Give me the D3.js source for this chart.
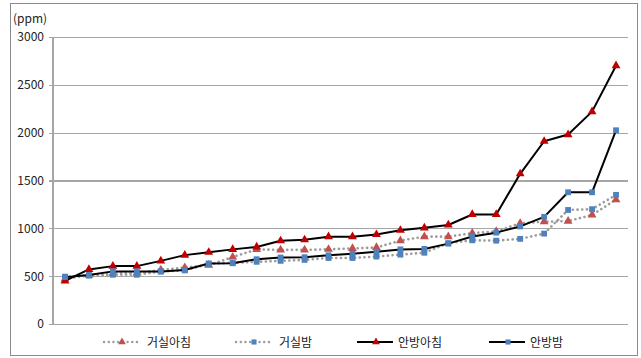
<!DOCTYPE html>
<html>
<head>
<meta charset="utf-8">
<script src="https://cdn.jsdelivr.net/npm/d3@7/dist/d3.min.js"></script>
<style>
  html, body { margin: 0; padding: 0; background: #fff; }
  svg { display: block; }
  text { font-family: "Noto Sans CJK KR", "Noto Sans", sans-serif; fill: #222; }
</style>
</head>
<body>
<svg id="chart" width="641" height="358"></svg>
<script>
// CO2 concentration (ppm), 24 measurement points, sorted ascending per series
const categories = d3.range(1, 25);
const yTicks = [0, 500, 1000, 1500, 2000, 2500, 3000];

const livingMorning = [470, 510, 530, 530, 565, 590, 615, 700, 780, 775, 775, 781, 790, 800, 872, 913, 913, 950, 968, 1053, 1070, 1075, 1140, 1300];
const livingNight   = [495, 505, 515, 515, 548, 560, 630, 640, 650, 660, 670, 690, 690, 705, 725, 745, 845, 875, 871, 890, 945, 1192, 1200, 1350];
const roomMorning   = [450, 570, 605, 605, 660, 720, 750, 780, 805, 870, 880, 913, 913, 935, 980, 1005, 1035, 1145, 1145, 1570, 1910, 1980, 2220, 2700];
const roomNight     = [490, 512, 550, 550, 550, 565, 632, 635, 677, 695, 698, 718, 735, 755, 780, 785, 840, 915, 955, 1020, 1120, 1377, 1377, 2025];

const seriesNames = ["거실아침", "거실밤", "안방아침", "안방밤"];

const series = [
  { name: seriesNames[0], values: livingMorning, line: "#9c9c9c", dotted: true,  marker: d3.symbolTriangle, fill: "#c0504d" },
  { name: seriesNames[1], values: livingNight,   line: "#9c9c9c", dotted: true,  marker: d3.symbolSquare,   fill: "#4f81bd" },
  { name: seriesNames[2], values: roomMorning,   line: "#000000", dotted: false, marker: d3.symbolTriangle, fill: "#c00000" },
  { name: seriesNames[3], values: roomNight,     line: "#000000", dotted: false, marker: d3.symbolSquare,   fill: "#4f81bd" }
];

const svg = d3.select("#chart");

// outer frame
svg.append("rect")
  .attr("x", 10.5).attr("y", 3.5)
  .attr("width", 627).attr("height", 352)
  .attr("fill", "none").attr("stroke", "#8a8a8a").attr("stroke-width", 1);

const plot = { left: 53, right: 628, top: 37, bottom: 324 };

const x = d3.scaleBand()
  .domain(categories)
  .range([plot.left, plot.right]);

const y = d3.scaleLinear()
  .domain([0, 3000])
  .range([plot.bottom, plot.top]);

const cx = d => x(d) + x.bandwidth() / 2;

// horizontal gridlines + y axis labels
const yAxis = d3.axisLeft(y)
  .tickValues(yTicks)
  .tickSize(-(plot.right - plot.left))
  .tickPadding(9)
  .tickFormat(d3.format("d"));

const gy = svg.append("g")
  .attr("transform", `translate(${plot.left},0)`)
  .call(yAxis);
gy.select(".domain").remove();
gy.selectAll(".tick line")
  .attr("x1", -4)
  .attr("stroke", "#a6a6a6")
  .attr("stroke-width", 1.2)
  .attr("shape-rendering", "crispEdges");
gy.selectAll(".tick text")
  .attr("font-size", 12)
  .attr("fill", "#222")
  .style("font-family", '"Noto Sans CJK KR", "Noto Sans", sans-serif');

// vertical axis line
svg.append("line")
  .attr("x1", plot.left).attr("x2", plot.left)
  .attr("y1", plot.top).attr("y2", plot.bottom)
  .attr("stroke", "#a6a6a6").attr("stroke-width", 1.2)
  .attr("shape-rendering", "crispEdges");

// unit label
svg.append("text")
  .attr("x", 13).attr("y", 23)
  .attr("font-size", 12)
  .text("(ppm)");

const line = d3.line()
  .x((v, i) => cx(categories[i]))
  .y(v => y(v));

series.forEach(s => {
  const g = svg.append("g");
  const path = g.append("path")
    .datum(s.values)
    .attr("d", line)
    .attr("fill", "none")
    .attr("stroke", s.line);
  if (s.dotted) {
    path.attr("stroke-width", 2.6)
      .attr("stroke-dasharray", "0.1 4.6")
      .attr("stroke-linecap", "round");
  } else {
    path.attr("stroke-width", 2)
      .attr("stroke-linejoin", "round");
  }
  const sym = d3.symbol().type(s.marker).size(34);
  g.selectAll("path.m")
    .data(s.values)
    .join("path")
    .attr("class", "m")
    .attr("d", sym)
    .attr("transform", (v, i) => `translate(${cx(categories[i])},${y(v)})`)
    .attr("fill", s.fill);
});

// legend
const legendX = [102, 234, 357, 489];
const legendY = 342;
series.forEach((s, i) => {
  const g = svg.append("g").attr("transform", `translate(${legendX[i]},${legendY})`);
  const ln = g.append("line")
    .attr("x1", 0).attr("x2", 36)
    .attr("y1", 0).attr("y2", 0)
    .attr("stroke", s.line);
  if (s.dotted) {
    ln.attr("stroke-width", 2.4)
      .attr("stroke-dasharray", "0.1 4.6")
      .attr("stroke-linecap", "round")
      .attr("x1", 2);
  } else {
    ln.attr("stroke-width", 2);
  }
  g.append("path")
    .attr("d", d3.symbol().type(s.marker).size(26))
    .attr("transform", `translate(${s.dotted ? 20 : 19},0)`)
    .attr("fill", s.fill);
  g.append("text")
    .attr("x", s.dotted ? 45 : 41)
    .attr("y", 4.5)
    .attr("font-size", 12)
    .text(s.name);
});
</script>
</body>
</html>
